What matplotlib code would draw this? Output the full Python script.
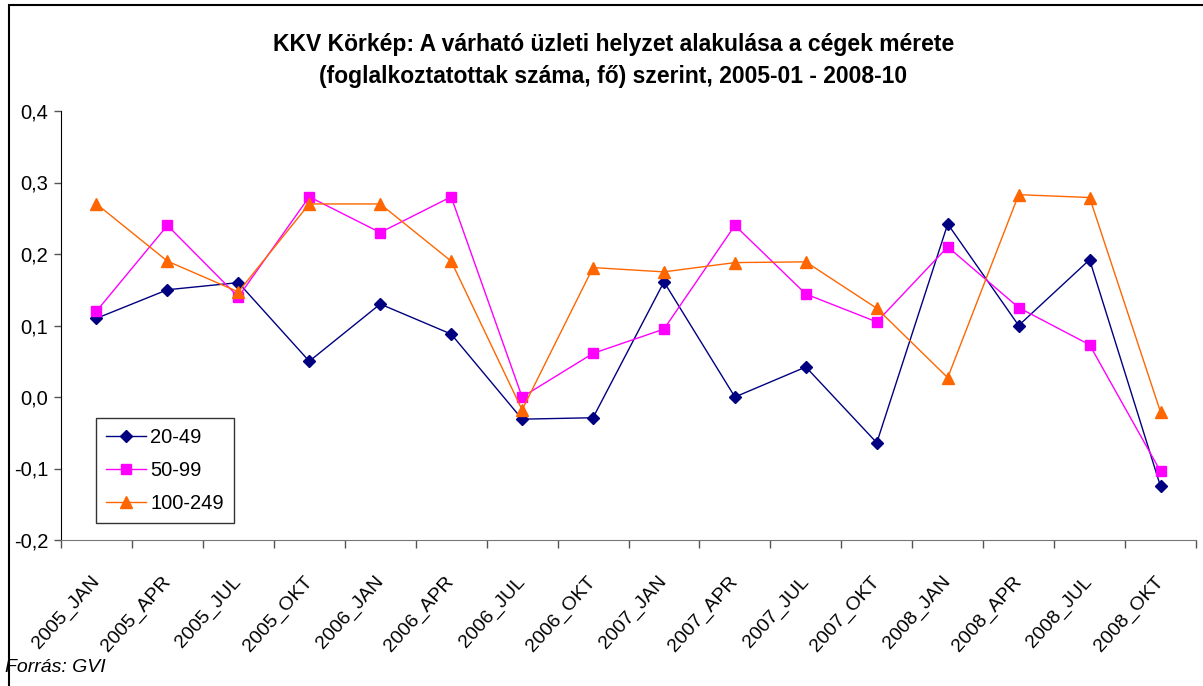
import matplotlib.pyplot as plt
from matplotlib.patches import Rectangle
from matplotlib.ticker import FuncFormatter, FixedLocator
import numpy as np

periods = ['2005_JAN', '2005_APR', '2005_JUL', '2005_OKT',
           '2006_JAN', '2006_APR', '2006_JUL', '2006_OKT',
           '2007_JAN', '2007_APR', '2007_JUL', '2007_OKT',
           '2008_JAN', '2008_APR', '2008_JUL', '2008_OKT']

s_20_49 = [0.11, 0.15, 0.16, 0.05, 0.13, 0.088, -0.031, -0.029,
           0.161, 0.0, 0.042, -0.064, 0.242, 0.10, 0.192, -0.125]
s_50_99 = [0.12, 0.24, 0.14, 0.28, 0.23, 0.28, 0.0, 0.061,
           0.095, 0.24, 0.144, 0.105, 0.21, 0.125, 0.073, -0.104]
s_100_249 = [0.27, 0.19, 0.147, 0.27, 0.27, 0.19, -0.018, 0.181,
             0.175, 0.188, 0.189, 0.124, 0.027, 0.283, 0.279, -0.021]

plt.rcParams['font.family'] = ['Liberation Sans', 'DejaVu Sans']

fig = plt.figure(figsize=(12.03, 6.86), dpi=100)
ax = fig.add_axes([61 / 1203, 1 - 540 / 686, (1196 - 61) / 1203, (540 - 111) / 686])

x = np.arange(len(periods))
ax.plot(x, s_20_49, color='#000080', lw=1.0, marker='D', ms=6.5, label='20-49')
ax.plot(x, s_50_99, color='#FF00FF', lw=1.0, marker='s', ms=7.5, label='50-99')
ax.plot(x, s_100_249, color='#FF6600', lw=1.0, marker='^', ms=8, label='100-249')

ax.set_xlim(-0.5, len(periods) - 0.5)
ax.set_ylim(-0.2, 0.4)
ax.set_yticks(np.arange(-0.2, 0.41, 0.1))
ax.yaxis.set_major_formatter(FuncFormatter(lambda v, p: f'{v:.1f}'.replace('.', ',').replace('-0,0', '0,0')))
ax.tick_params(axis='y', direction='out', length=5, width=1, labelsize=14.5, pad=4, color='#555555')

ax.set_xticks(x)
ax.set_xticklabels(periods, rotation=48, ha='right', va='center', rotation_mode='anchor')
ax.tick_params(axis='x', which='major', length=0, labelsize=14, pad=28)
ax.xaxis.set_minor_locator(FixedLocator(np.arange(-0.5, len(periods), 1)))
ax.tick_params(axis='x', which='minor', direction='out', length=6, width=1, color='#555555')

for side in ['top', 'right']:
    ax.spines[side].set_visible(False)
ax.spines['left'].set_color('black')
ax.spines['bottom'].set_color('#777777')

leg = ax.legend(loc='lower left', bbox_to_anchor=(25 / 1135, 7 / 429), fontsize=14.5,
                frameon=True, fancybox=False, edgecolor='black', handlelength=2.0,
                borderpad=0.5, labelspacing=0.7, handletextpad=0.2)
leg.get_frame().set_linewidth(1.0)

fig.text(0.51, 1 - 45 / 686, 'KKV Körkép: A várható üzleti helyzet alakulása a cégek mérete',
         ha='center', va='center', fontsize=16.5, fontweight='bold')
fig.text(0.51, 1 - 77 / 686, '(foglalkoztatottak száma, fő) szerint, 2005-01 - 2008-10',
         ha='center', va='center', fontsize=16.5, fontweight='bold')
fig.text(5 / 1203, 1 - 668 / 686, 'Forrás: GVI', ha='left', va='center', fontsize=14, style='italic')

fig.patches.append(Rectangle((9 / 1203, -0.1), 1.2, 1 - 5 / 686 + 0.1, transform=fig.transFigure,
                             fill=False, edgecolor='black', lw=1.5))

fig.savefig('out.png', dpi=100)
